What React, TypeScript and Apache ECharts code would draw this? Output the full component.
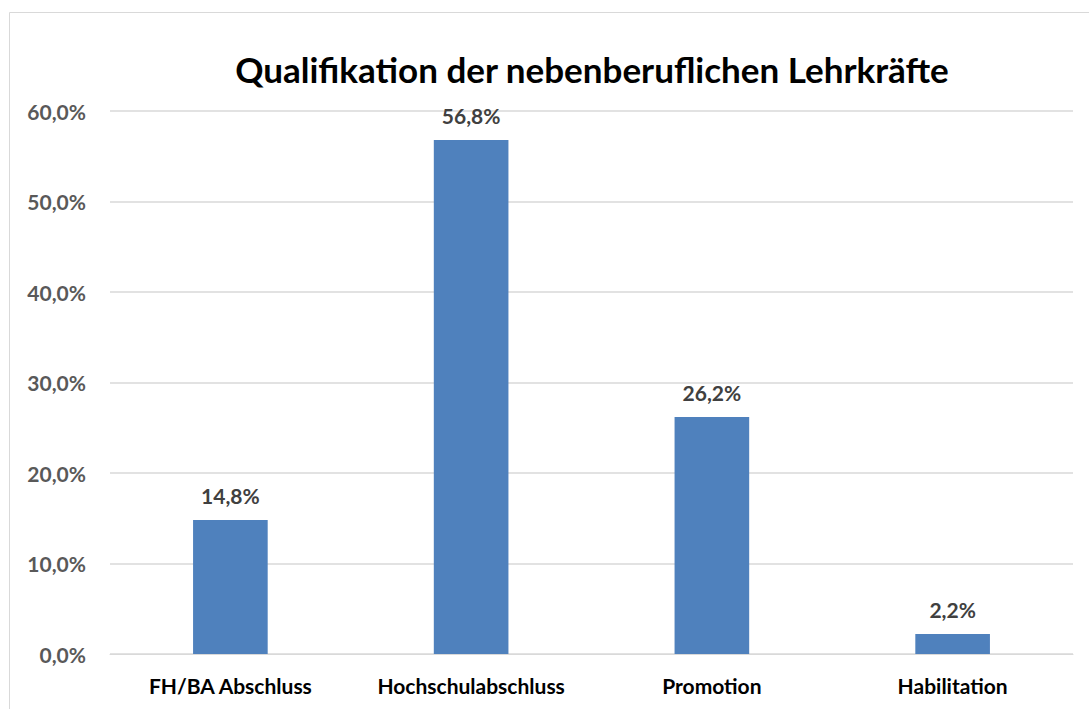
import React, { useEffect, useRef } from "react";
import * as echarts from "echarts";

const categories = ["FH/BA Abschluss", "Hochschulabschluss", "Promotion", "Habilitation"];
const values = [14.8, 56.8, 26.2, 2.2];
const titleText = "Qualifikation der nebenberuflichen Lehrkräfte";
const FONT = "Lato, 'Open Sans', sans-serif";

const fmt = (v: number) => v.toFixed(1).replace(".", ",") + "%";

export default function App() {
  const ref = useRef<HTMLDivElement>(null);
  useEffect(() => {
    document.body.style.margin = "0";
    const chart = echarts.init(ref.current!, null, { renderer: "svg" });
    chart.setOption({
      animation: false,
      backgroundColor: "#ffffff",
      graphic: [
        {
          type: "rect",
          shape: { x: 9.5, y: 12.5, width: 1200, height: 800 },
          style: { fill: "none", stroke: "#d9d9d9", lineWidth: 1 },
          silent: true,
        },
        {
          type: "text",
          x: 592,
          y: 69,
          style: {
            text: titleText,
            fontFamily: FONT,
            fontWeight: "bold",
            fontSize: 35,
            fill: "#000000",
            textAlign: "center",
            textVerticalAlign: "middle",
          },
        },
      ],
      grid: { left: 110, right: 16, top: 111, bottom: 55, containLabel: false },
      xAxis: {
        type: "category",
        data: categories,
        axisLine: { show: true, lineStyle: { color: "#d9d9d9", width: 1 } },
        axisTick: { show: false },
        axisLabel: {
          interval: 0,
          hideOverlap: false,
          color: "#000000",
          fontFamily: FONT,
          fontWeight: "bold",
          fontSize: 21,
          margin: 21,
        },
      },
      yAxis: {
        type: "value",
        min: 0,
        max: 60,
        interval: 10,
        axisLine: { show: false },
        axisTick: { show: false },
        splitLine: { lineStyle: { color: "#d9d9d9", width: 1.5 } },
        axisLabel: {
          color: "#595959",
          fontFamily: FONT,
          fontWeight: "bold",
          fontSize: 21,
          margin: 24,
          formatter: (v: number) => fmt(v),
        },
      },
      series: [
        {
          type: "bar",
          data: values,
          barWidth: "31%",
          itemStyle: { color: "#4f81bd" },
          label: {
            show: true,
            position: "top",
            distance: 14,
            color: "#404040",
            fontFamily: FONT,
            fontWeight: "bold",
            fontSize: 21,
            formatter: (p: any) => fmt(p.value),
          },
        },
      ],
    });
    return () => chart.dispose();
  }, []);
  return <div ref={ref} style={{ width: 1089, height: 709 }} />;
}
